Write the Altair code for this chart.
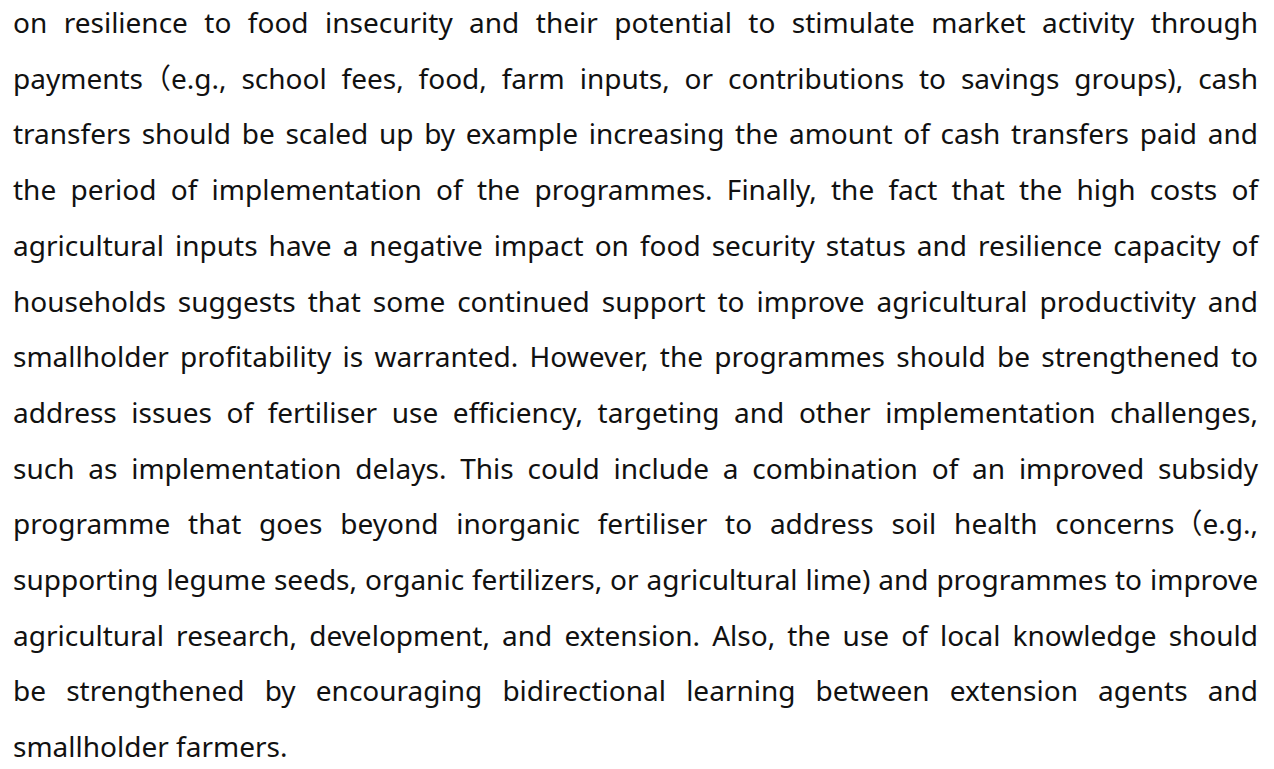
import subprocess
import altair as alt
import pandas as pd

# ---- content (one entry per printed line) ----
LINES = [
    "on resilience to food insecurity and their potential to stimulate market activity through",
    "payments（e.g., school fees, food, farm inputs, or contributions to savings groups), cash",
    "transfers should be scaled up by example increasing the amount of cash transfers paid and",
    "the period of implementation of the programmes. Finally, the fact that the high costs of",
    "agricultural inputs have a negative impact on food security status and resilience capacity of",
    "households suggests that some continued support to improve agricultural productivity and",
    "smallholder profitability is warranted. However, the programmes should be strengthened to",
    "address issues of fertiliser use efficiency, targeting and other implementation challenges,",
    "such as implementation delays. This could include a combination of an improved subsidy",
    "programme that goes beyond inorganic fertiliser to address soil health concerns（e.g.,",
    "supporting legume seeds, organic fertilizers, or agricultural lime) and programmes to improve",
    "agricultural research, development, and extension. Also, the use of local knowledge should",
    "be strengthened by encouraging bidirectional learning between extension agents and",
    "smallholder farmers.",
]

# ---- style / layout constants ----
LATIN_FONT = "Noto Sans"
CJK_FONT = "Noto Sans CJK JP"
FONT_SIZE = 28
TEXT_COLOR = "#111111"
W, H = 1258, 753
LEFT, RIGHT = 13, 1258
FIRST_BASELINE = 33
LINE_STEP = 55.7

# fallback advance widths (em/1000), Open-Sans-like
FALLBACK = {
    "a": 556, "b": 613, "c": 480, "d": 613, "e": 561, "f": 336, "g": 546, "h": 614,
    "i": 252, "j": 252, "k": 529, "l": 252, "m": 932, "n": 614, "o": 604, "p": 613,
    "q": 613, "r": 410, "s": 479, "t": 361, "u": 614, "v": 500, "w": 776, "x": 522,
    "y": 500, "z": 468, "A": 633, "F": 555, "T": 556, "H": 738, "S": 549,
    " ": 260, ".": 266, ",": 250, "(": 296, ")": 296,
}


def load_font(name):
    from PIL import ImageFont
    out = subprocess.run(["fc-match", "-f", "%{file}|%{index}", name],
                         capture_output=True, text=True).stdout.strip()
    path, idx = out.split("|")
    return ImageFont.truetype(path, FONT_SIZE, index=int(idx or 0))


try:
    _lat = load_font(LATIN_FONT)
    _cjk = load_font(CJK_FONT)

    def measure(s):
        total, run, run_cjk = 0.0, "", None
        for ch in s + "\0":
            is_cjk = ord(ch) > 0x2000
            if ch == "\0" or (run and is_cjk != run_cjk):
                if run:
                    total += (_cjk if run_cjk else _lat).getlength(run)
                run = ""
            if ch != "\0":
                run += ch
                run_cjk = is_cjk
        return total
except Exception:
    def measure(s):
        t = 0
        for ch in s:
            if ord(ch) > 0x2000:
                t += 1000
            else:
                t += FALLBACK.get(ch, 560)
        return t * FONT_SIZE / 1000.0

rows = []
for i, line in enumerate(LINES):
    words = line.split(" ")
    widths = [measure(w) for w in words]
    y = FIRST_BASELINE + i * LINE_STEP
    justified = i < len(LINES) - 1 and len(words) > 1
    gap = (RIGHT - LEFT - sum(widths)) / (len(words) - 1) if justified else measure(" ")
    x = LEFT
    for j, (w, wd) in enumerate(zip(words, widths)):
        xx = RIGHT - wd if (justified and j == len(words) - 1) else x
        rows.append({"word": w, "x": xx, "y": y})
        x += wd + gap

df = pd.DataFrame(rows)

chart = (
    alt.Chart(df)
    .mark_text(
        align="left",
        baseline="alphabetic",
        font=f"{LATIN_FONT}, {CJK_FONT}",
        fontSize=FONT_SIZE,
        color=TEXT_COLOR,
    )
    .encode(
        x=alt.X("x:Q", scale=alt.Scale(domain=[8, 8 + W], nice=False, zero=False), axis=None),
        y=alt.Y("y:Q", scale=alt.Scale(domain=[8, 8 + H], nice=False, zero=False, reverse=True), axis=None),
        text="word:N",
    )
    .properties(width=W, height=H, padding=0, autosize=alt.AutoSizeParams(type="none"))
    .configure_view(strokeWidth=0, stroke="transparent", fill="white")
)

chart.save("out.html", embed_options={"renderer": "svg", "actions": False})
